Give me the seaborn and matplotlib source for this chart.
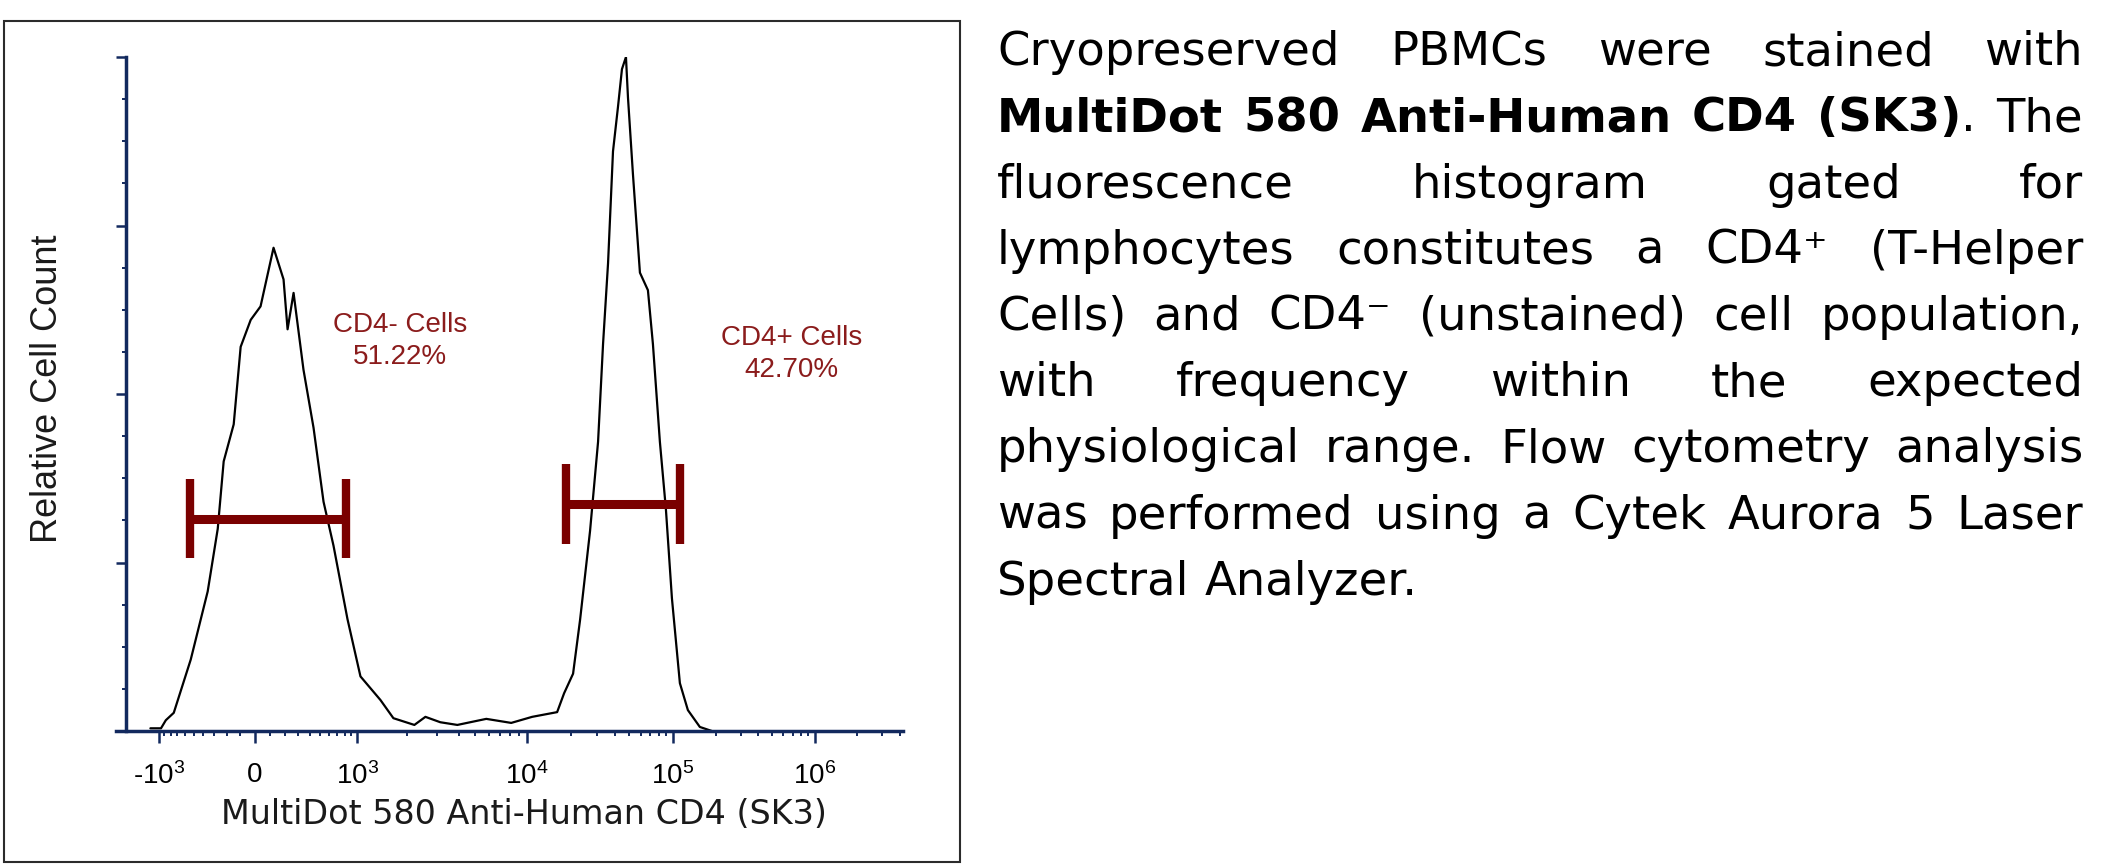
import numpy as np
import pandas as pd
import matplotlib
matplotlib.use("Agg")
import matplotlib.pyplot as plt
import seaborn as sns
from matplotlib.patches import Rectangle

# histogram of the CD4 channel (fluorescence value, relative count in %)
intensity = [-1150, -960, -877, -753, -533, -359, -271, -223, -147, -97, -27, 38,
             123, 192, 221, 266, 346, 436, 537, 651, 840, 1044, 1383, 1654,
             2202, 2557, 3125, 3930, 5790, 8080, 10820, 16060, 17930,
             20660, 23080, 27020, 30660, 33170, 35900, 38820, 42000, 44720,
             47640, 49180, 53200, 59400, 67400, 72940, 81420, 89540, 98460,
             112000, 127560, 154900, 188200]
rel_count = [0.4, 0.4, 1.6, 2.7, 10.6, 20.7, 30.0, 40.0, 45.5, 57.0, 61.0, 63.0,
             71.7, 67.0, 59.6, 65.0, 53.6, 45.0, 34.0, 27.5, 16.6, 8.1, 4.6, 1.9,
             0.9, 2.1, 1.3, 0.9, 1.8, 1.2, 2.1, 2.8, 5.6,
             8.5, 16.5, 29.7, 42.9, 57.4, 69.4, 86.0, 92.6, 98.2,
             100.0, 94.0, 82.6, 68.0, 65.4, 57.4, 42.9, 32.9, 19.7,
             7.1, 3.1, 0.6, 0.0]

# gates
gate_names = ["CD4- Cells", "CD4+ Cells"]
gate_pct = ["51.22%", "42.70%"]
gate_lo = [-544, 18500]
gate_hi = [811, 112000]
gate_y = [31.5, 33.7]
label_x = [1820, 690000]
label_y = [57.8, 55.9]

# axis ticks
major_ticks = [-1e3, 0, 1e3, 1e4, 1e5, 1e6]
major_labels = ["-$10^{3}$", "0", "$10^{3}$", "$10^{4}$", "$10^{5}$", "$10^{6}$"]

paragraph = [
    "Cryopreserved PBMCs were stained with",
    "**MultiDot 580 Anti-Human CD4 (SK3)**. The",
    "fluorescence histogram gated for",
    "lymphocytes constitutes a CD4\u207a (T-Helper",
    "Cells) and CD4\u207b (unstained) cell population,",
    "with frequency within the expected",
    "physiological range. Flow cytometry analysis",
    "was performed using a Cytek Aurora 5 Laser",
    "Spectral Analyzer.",
]

W, H = 2116, 867
NAVY = "#12295e"
GATE = "#7a0000"
LABEL = "#8b1c1c"
BODY_SIZE = 33.5

sns.set_theme(style="white")
plt.rcParams["font.family"] = ["Liberation Sans", "DejaVu Sans"]
plt.rcParams["mathtext.fontset"] = "custom"
plt.rcParams["mathtext.rm"] = "Liberation Sans"
plt.rcParams["mathtext.default"] = "rm"

# logicle-like display: asinh near zero, decade widths as on the cytometer
LIN_W = 400.0
_vals = np.array([-1e4, -1e3, 0, 1e3, 1e4, 1e5, 1e6, 1e7])
_pos = np.array([0.12, 1.58, 2.54, 3.57, 5.27, 6.73, 8.15, 9.57])
_u = np.arcsinh(_vals / LIN_W)
_s0 = (_pos[1] - _pos[0]) / (_u[1] - _u[0])
_s1 = (_pos[-1] - _pos[-2]) / (_u[-1] - _u[-2])
U_EXT = np.concatenate([[_u[0] - 60], _u, [_u[-1] + 60]])
P_EXT = np.concatenate([[_pos[0] - 60 * _s0], _pos, [_pos[-1] + 60 * _s1]])


def fwd(x):
    return np.interp(np.arcsinh(np.asarray(x, dtype=float) / LIN_W), U_EXT, P_EXT)


def inv(p):
    return LIN_W * np.sinh(np.interp(np.asarray(p, dtype=float), P_EXT, U_EXT))


def fig_xy(px, py):
    return px / W, 1 - py / H


fig = plt.figure(figsize=(W / 100, H / 100), dpi=100)
ax = fig.add_axes([116 / W, 1 - 731 / H, (903 - 116) / W, (731 - 57) / H])
ax.set_xscale("function", functions=(fwd, inv))

df = pd.DataFrame({"intensity": intensity, "count": rel_count})
sns.lineplot(data=df, x="intensity", y="count", sort=False, estimator=None,
             color="black", lw=1.6, ax=ax)

for lo, hi, gy in zip(gate_lo, gate_hi, gate_y):
    ax.hlines(gy, lo, hi, color=GATE, lw=6.5)
    ax.vlines([lo, hi], gy - 5.9, gy + 5.9, color=GATE, lw=6.0)

for name, pct, lx, ly in zip(gate_names, gate_pct, label_x, label_y):
    ax.text(lx, ly, name + "\n" + pct, ha="center", va="center", color=LABEL,
            fontsize=20, linespacing=1.3)

ax.set_xlim(-2000, 4.2e6)
ax.set_ylim(0, 100)
ax.set_xlabel("")
ax.set_ylabel("")

minor = [v for v in range(-900, 1000, 100) if v != 0]
for dec in [1e3, 1e4, 1e5, 1e6]:
    minor += [k * dec for k in range(2, 10) if k * dec < 4.2e6]
ax.set_xticks(major_ticks)
ax.set_xticklabels(major_labels, fontsize=20)
ax.set_xticks(minor, minor=True)
ax.set_yticks([0, 25, 50, 75, 100])
ax.set_yticks(np.arange(0, 100, 6.25), minor=True)
ax.set_yticklabels([])

for side in ["top", "right"]:
    ax.spines[side].set_visible(False)
for side in ["left", "bottom"]:
    ax.spines[side].set_color(NAVY)
    ax.spines[side].set_linewidth(2.5)
ax.spines["left"].set_position(("axes", 10 / 787))
ax.spines["left"].set_bounds(0, 100)
ax.tick_params(which="both", bottom=True, left=True, top=False, right=False)
ax.tick_params(axis="x", which="major", direction="out", length=8.5, width=1.8,
               color=NAVY, pad=14, labelcolor="black")
ax.tick_params(axis="x", which="minor", direction="out", length=3.5, width=1.4, color=NAVY)
ax.tick_params(axis="y", which="major", direction="out", length=7, width=1.8, color=NAVY)
ax.tick_params(axis="y", which="minor", direction="out", length=3, width=1.4, color=NAVY)
ax.set_facecolor("white")

fig.text(*fig_xy(524, 815), "MultiDot 580 Anti-Human CD4 (SK3)", ha="center",
         va="center", fontsize=24, family="DejaVu Sans", color="#1a1a1a")
fig.text(*fig_xy(48, 389), "Relative Cell Count", ha="center", va="center",
         rotation=90, fontsize=26, color="#1a1a1a")

fig.add_artist(Rectangle(fig_xy(4, 862), (960 - 4) / W, (862 - 21) / H,
                         transform=fig.transFigure, fill=False, ec="#2b2b2b", lw=1.5))

# justified paragraph on the right
renderer = fig.canvas.get_renderer()
x_left, x_right = 997, 2083
base0, step = 65, 66.25
bold = False
space_w = None
for i, line in enumerate(paragraph):
    words = []
    for w in line.split(" "):
        segs = []
        for j, part in enumerate(w.split("**")):
            if j > 0:
                bold = not bold
            if part:
                segs.append((part, bold))
        words.append(segs)
    yb = base0 + i * step
    objs = []
    widths = []
    for segs in words:
        wo = []
        ww = 0
        for txt, b in segs:
            t = fig.text(0, fig_xy(0, yb)[1], txt, ha="left", va="baseline",
                         fontsize=BODY_SIZE, family="DejaVu Sans",
                         fontweight="bold" if b else "normal", color="black")
            bb = t.get_window_extent(renderer=renderer)
            wo.append((t, bb.width))
            ww += bb.width
        objs.append(wo)
        widths.append(ww)
    if space_w is None:
        probe = fig.text(0, 0, "a a", fontsize=BODY_SIZE, family="DejaVu Sans")
        probe2 = fig.text(0, 0, "aa", fontsize=BODY_SIZE, family="DejaVu Sans")
        space_w = (probe.get_window_extent(renderer=renderer).width
                   - probe2.get_window_extent(renderer=renderer).width)
        probe.remove()
        probe2.remove()
    last = i == len(paragraph) - 1
    if last or len(words) == 1:
        gap = space_w
    else:
        gap = max(space_w * 0.5, (x_right - x_left - sum(widths)) / (len(words) - 1))
    x = x_left
    for wo, ww in zip(objs, widths):
        xx = x
        for t, tw in wo:
            t.set_x(xx / W)
            xx += tw
        x += ww + gap

fig.savefig("out.png", dpi=100, facecolor="white")
